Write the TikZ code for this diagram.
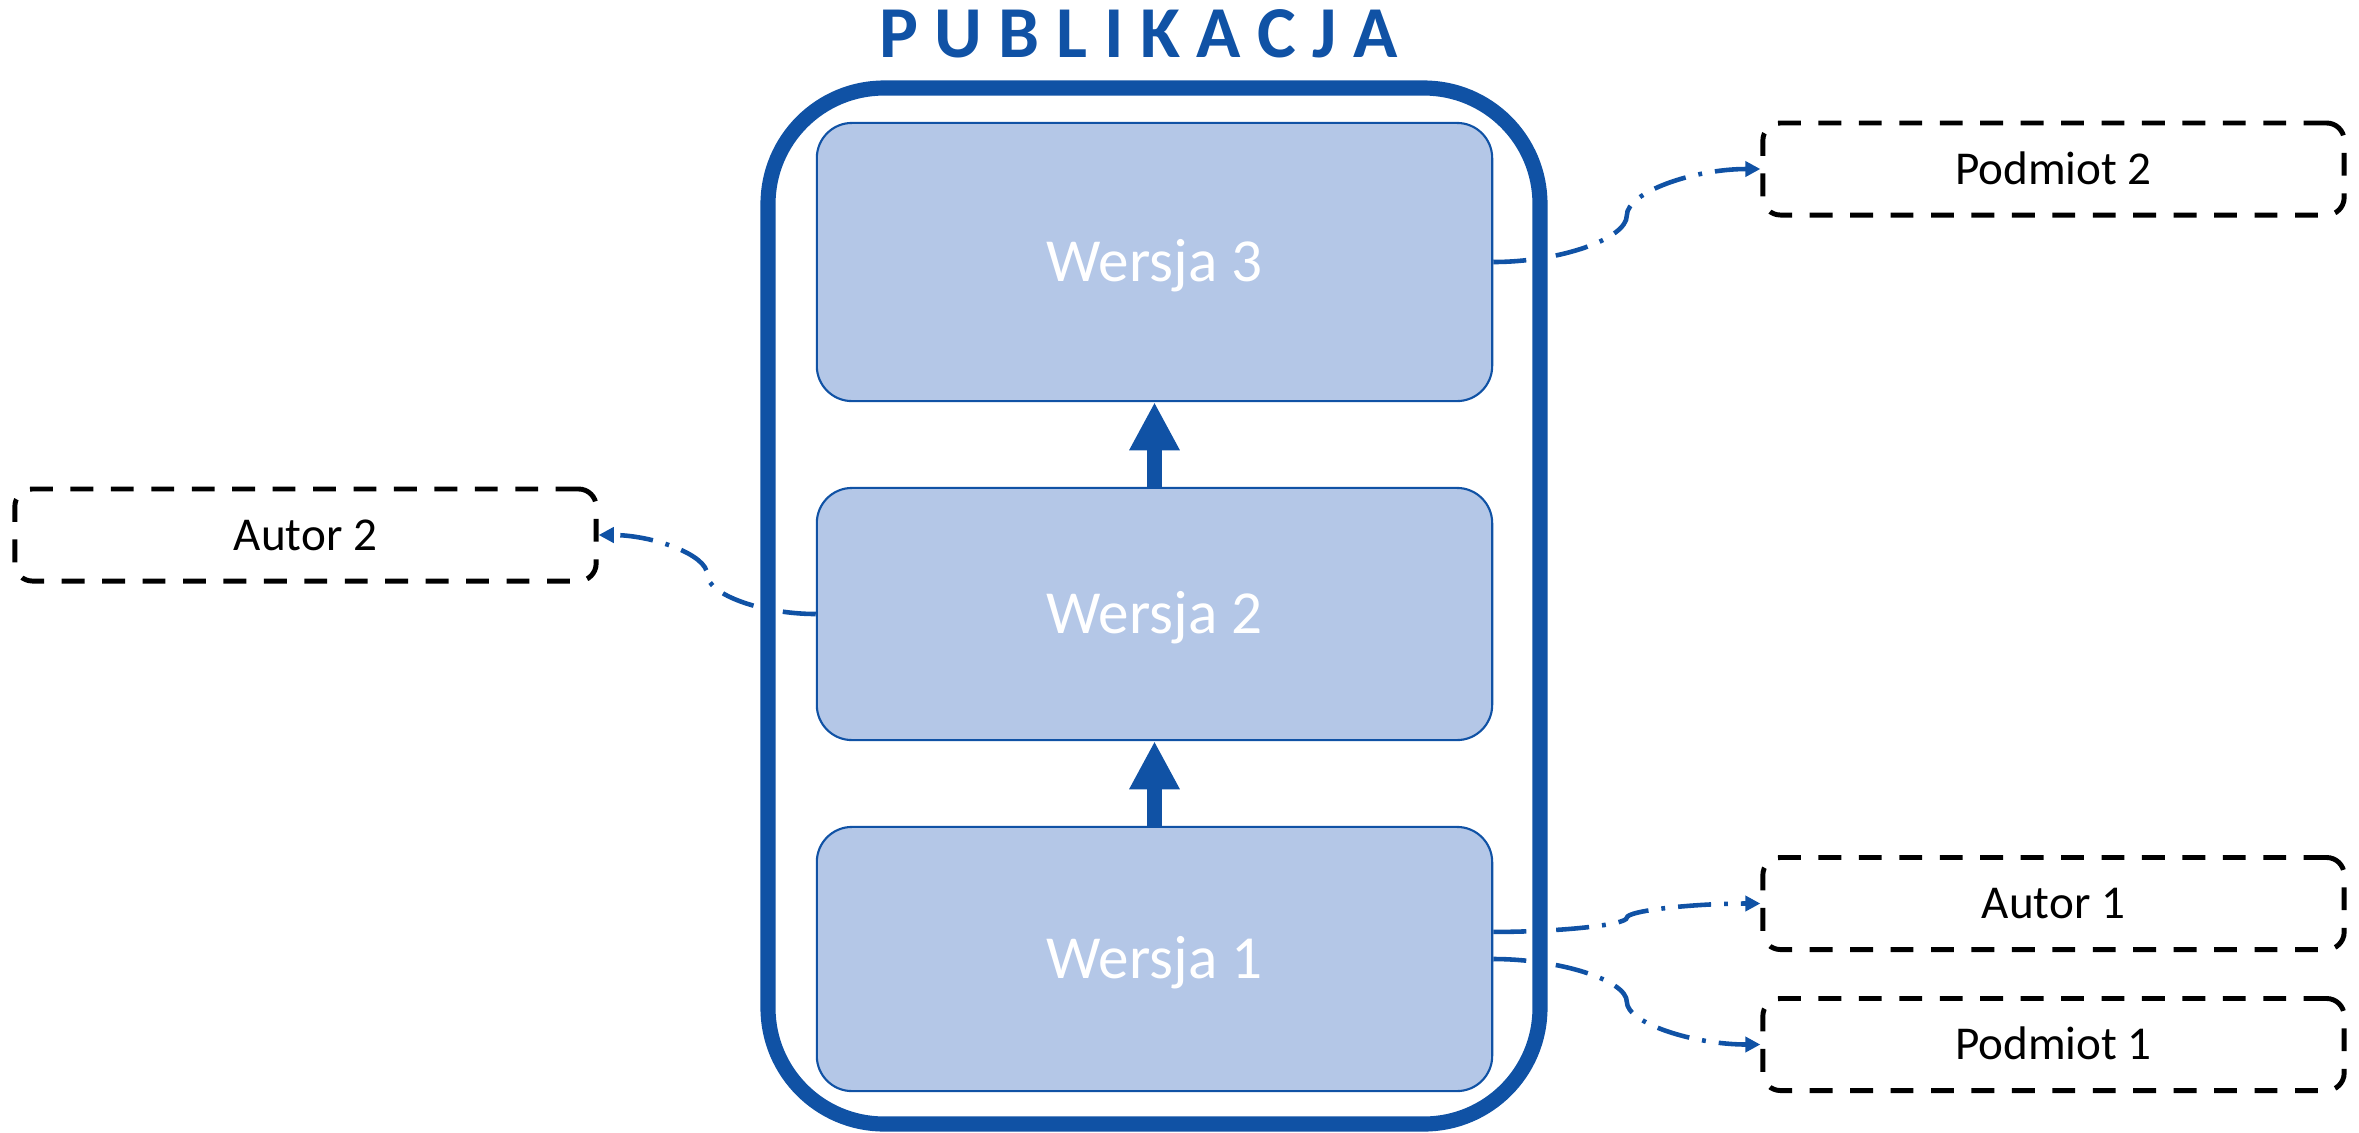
\documentclass[tikz,border=0pt]{standalone}
\usepackage{fontspec}
\setmainfont{Carlito}
\usetikzlibrary{arrows.meta, calc}

\definecolor{pubblue}{RGB}{16,82,165}
\definecolor{verfill}{RGB}{180,199,231}

% curved dash-dot link, bent in the middle
\newcommand\laczenie[2]{%
  \draw[powiazanie] let \p1=(#1), \p2=(#2) in
    (\p1) .. controls ({\x1+(\x2-\x1)/4},\y1) and ({(\x1+\x2)/2},{\y1+(\y2-\y1)/4}) .. ({(\x1+\x2)/2},{(\y1+\y2)/2})
    .. controls ({(\x1+\x2)/2},{\y1+3*(\y2-\y1)/4}) and ({\x1+3*(\x2-\x1)/4},\y2) .. (\p2);}

\begin{document}
\begin{tikzpicture}[x=0.01cm, y=-0.01cm,
    wersja/.style={draw=pubblue, line width=0.6pt, fill=verfill, rounded corners=10pt, minimum width=6.75cm,
      text=white, font=\fontsize{17.4}{20}\selectfont, text height=11.2pt, text depth=0pt},
    obiekt/.style={draw, line width=1.4pt, dash pattern=on 6.5pt off 5pt, rounded corners=5pt,
      minimum width=5.81cm, minimum height=0.92cm, font=\fontsize{13.4}{16}\selectfont, text height=8.6pt, text depth=0pt},
    wzrost/.style={pubblue, line width=4.3pt, -{Triangle[length=13.7pt, width=13.4pt]}},
    powiazanie/.style={pubblue, line width=1.3pt, dash pattern=on 9.4pt off 3.7pt on 1.1pt off 3.7pt,
      -{Triangle[length=4.3pt, width=4.3pt]}}]
  \useasboundingbox (0,0) rectangle (2359,1132);

  \node[text=pubblue, font=\bfseries\fontsize{20.8}{24}\selectfont, anchor=base] (tytul) at (1138.5,57) {P U B L I K A C J A};

  \node[wersja, minimum height=2.78cm] (w3) at (1154.5,262) {Wersja 3};
  \node[wersja, minimum height=2.52cm] (w2) at (1154.5,614) {Wersja 2};
  \node[wersja, minimum height=2.64cm] (w1) at (1154.5,959) {Wersja 1};
  \draw[wzrost] (w1.north) -- (w2.south);
  \draw[wzrost] (w2.north) -- (w3.south);

  \node[obiekt] (p2) at (2053.5,169) {Podmiot 2};
  \node[obiekt] (a2) at (305.5,535) {Autor 2};
  \node[obiekt] (a1) at (2053.5,903.5) {Autor 1};
  \node[obiekt] (p1) at (2053.5,1044.5) {Podmiot 1};

  \laczenie{w3.east}{p2.west}
  \laczenie{w2.west}{a2.east}
  \laczenie{[yshift=7.7pt]w1.east}{a1.west}
  \laczenie{w1.east}{p1.west}

  \draw[pubblue, line width=4.3pt, rounded corners=33pt] (768,88) rectangle (1540,1124);
\end{tikzpicture}
\end{document}
